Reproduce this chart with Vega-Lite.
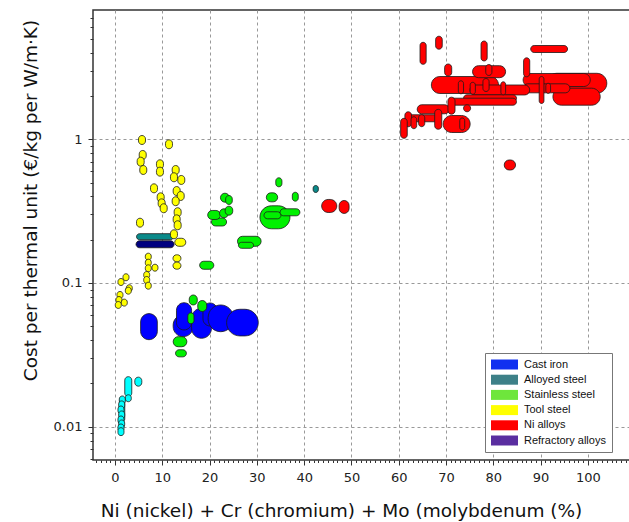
{
  "$schema": "https://vega.github.io/schema/vega-lite/v6.json",
  "width": 537,
  "height": 450,
  "autosize": {"type": "none"},
  "padding": {"left": 93, "top": 10, "right": 0, "bottom": 62},
  "background": "white",
  "config": {
    "view": {"stroke": "#333", "strokeWidth": 1.5},
    "font": "DejaVu Sans",
    "axis": {
      "domain": false,
      "grid": true,
      "gridColor": "#999",
      "gridDash": [3, 3],
      "gridWidth": 1,
      "tickColor": "#333",
      "tickWidth": 1,
      "labelFont": "DejaVu Sans",
      "labelFontSize": 13,
      "labelColor": "#222",
      "labelOverlap": false,
      "labelFlush": false,
      "titleFont": "DejaVu Sans",
      "titleFontSize": 18.5,
      "titleFontWeight": "normal",
      "titleColor": "#111"
    }
  },
  "layer": [
    {
      "data": {
        "values": [
          {"fam": "Tool steel", "x1": 4.97, "x2": 6.45, "y1": 0.92, "y2": 1.063},
          {"fam": "Tool steel", "x1": 10.68, "x2": 12.16, "y1": 0.859, "y2": 0.992},
          {"fam": "Tool steel", "x1": 5.12, "x2": 6.6, "y1": 0.723, "y2": 0.836},
          {"fam": "Tool steel", "x1": 4.69, "x2": 6.17, "y1": 0.65, "y2": 0.751},
          {"fam": "Tool steel", "x1": 5.24, "x2": 6.72, "y1": 0.569, "y2": 0.657},
          {"fam": "Tool steel", "x1": 8.77, "x2": 10.25, "y1": 0.623, "y2": 0.72},
          {"fam": "Tool steel", "x1": 8.77, "x2": 10.25, "y1": 0.554, "y2": 0.64},
          {"fam": "Tool steel", "x1": 12.09, "x2": 13.57, "y1": 0.569, "y2": 0.657},
          {"fam": "Tool steel", "x1": 11.73, "x2": 13.21, "y1": 0.506, "y2": 0.585},
          {"fam": "Tool steel", "x1": 13.28, "x2": 14.76, "y1": 0.485, "y2": 0.56},
          {"fam": "Tool steel", "x1": 7.51, "x2": 8.99, "y1": 0.424, "y2": 0.49},
          {"fam": "Tool steel", "x1": 8.92, "x2": 10.4, "y1": 0.367, "y2": 0.424},
          {"fam": "Tool steel", "x1": 9.13, "x2": 10.61, "y1": 0.334, "y2": 0.385},
          {"fam": "Tool steel", "x1": 9.56, "x2": 11.04, "y1": 0.308, "y2": 0.356},
          {"fam": "Tool steel", "x1": 12.3, "x2": 13.78, "y1": 0.406, "y2": 0.469},
          {"fam": "Tool steel", "x1": 13.15, "x2": 14.63, "y1": 0.375, "y2": 0.433},
          {"fam": "Tool steel", "x1": 12.09, "x2": 13.57, "y1": 0.345, "y2": 0.398},
          {"fam": "Tool steel", "x1": 12.51, "x2": 13.99, "y1": 0.289, "y2": 0.334},
          {"fam": "Tool steel", "x1": 12.3, "x2": 13.78, "y1": 0.258, "y2": 0.298},
          {"fam": "Tool steel", "x1": 12.51, "x2": 13.99, "y1": 0.2345, "y2": 0.271},
          {"fam": "Tool steel", "x1": 4.55, "x2": 6.03, "y1": 0.2445, "y2": 0.2824},
          {"fam": "Alloyed steel", "x1": 4.55, "x2": 12.37, "y1": 0.2, "y2": 0.2203},
          {"fam": "Refractory alloys", "x1": 4.45, "x2": 12.5, "y1": 0.1758, "y2": 0.1966},
          {"fam": "Tool steel", "x1": 11.73, "x2": 13.21, "y1": 0.203, "y2": 0.2345},
          {"fam": "Tool steel", "x1": 12.64, "x2": 14.97, "y1": 0.18, "y2": 0.2047},
          {"fam": "Tool steel", "x1": 12.26, "x2": 13.95, "y1": 0.1404, "y2": 0.157},
          {"fam": "Tool steel", "x1": 12.26, "x2": 13.95, "y1": 0.1247, "y2": 0.1396},
          {"fam": "Tool steel", "x1": 6.41, "x2": 7.67, "y1": 0.1441, "y2": 0.1612},
          {"fam": "Tool steel", "x1": 6.41, "x2": 7.67, "y1": 0.1309, "y2": 0.1464},
          {"fam": "Tool steel", "x1": 6.41, "x2": 7.67, "y1": 0.1197, "y2": 0.1338},
          {"fam": "Tool steel", "x1": 7.82, "x2": 9.09, "y1": 0.1208, "y2": 0.1351},
          {"fam": "Tool steel", "x1": 6.07, "x2": 7.34, "y1": 0.1075, "y2": 0.1202},
          {"fam": "Tool steel", "x1": 6.07, "x2": 7.34, "y1": 0.0992, "y2": 0.111},
          {"fam": "Tool steel", "x1": 6.41, "x2": 7.67, "y1": 0.0905, "y2": 0.1013},
          {"fam": "Tool steel", "x1": 1.69, "x2": 2.96, "y1": 0.1036, "y2": 0.1159},
          {"fam": "Tool steel", "x1": 0.63, "x2": 1.9, "y1": 0.096, "y2": 0.1075},
          {"fam": "Tool steel", "x1": 2.39, "x2": 3.66, "y1": 0.0869, "y2": 0.0972},
          {"fam": "Tool steel", "x1": 2.18, "x2": 3.45, "y1": 0.0836, "y2": 0.0935},
          {"fam": "Tool steel", "x1": 0.42, "x2": 1.69, "y1": 0.078, "y2": 0.0873},
          {"fam": "Tool steel", "x1": 0.21, "x2": 1.48, "y1": 0.072, "y2": 0.0805},
          {"fam": "Tool steel", "x1": 1.33, "x2": 2.6, "y1": 0.069, "y2": 0.0772},
          {"fam": "Tool steel", "x1": 0.06, "x2": 1.33, "y1": 0.0665, "y2": 0.0743},
          {"fam": "Carbon steel", "x1": 2.07, "x2": 3.55, "y1": 0.01618, "y2": 0.02228},
          {"fam": "Carbon steel", "x1": 4.19, "x2": 5.67, "y1": 0.01913, "y2": 0.02211},
          {"fam": "Carbon steel", "x1": 2.18, "x2": 3.45, "y1": 0.01491, "y2": 0.01667},
          {"fam": "Carbon steel", "x1": 1.01, "x2": 2.07, "y1": 0.01087, "y2": 0.01571},
          {"fam": "Carbon steel", "x1": 0.91, "x2": 2.18, "y1": 0.01439, "y2": 0.01635},
          {"fam": "Carbon steel", "x1": 0.78, "x2": 2.05, "y1": 0.01328, "y2": 0.0151},
          {"fam": "Carbon steel", "x1": 0.63, "x2": 1.9, "y1": 0.01226, "y2": 0.01393},
          {"fam": "Carbon steel", "x1": 0.78, "x2": 2.05, "y1": 0.01131, "y2": 0.01286},
          {"fam": "Carbon steel", "x1": 0.63, "x2": 1.9, "y1": 0.01044, "y2": 0.01187},
          {"fam": "Carbon steel", "x1": 0.78, "x2": 2.05, "y1": 0.0098, "y2": 0.01113},
          {"fam": "Carbon steel", "x1": 0.63, "x2": 1.9, "y1": 0.00919, "y2": 0.01044},
          {"fam": "Carbon steel", "x1": 0.63, "x2": 1.9, "y1": 0.00866, "y2": 0.00984},
          {"fam": "Cast iron", "x1": 12.3, "x2": 16.55, "y1": 0.0423, "y2": 0.0599},
          {"fam": "Cast iron", "x1": 13.0, "x2": 16.2, "y1": 0.0471, "y2": 0.0729},
          {"fam": "Cast iron", "x1": 16.2, "x2": 20.4, "y1": 0.0412, "y2": 0.0667},
          {"fam": "Cast iron", "x1": 18.6, "x2": 21.6, "y1": 0.0502, "y2": 0.0726},
          {"fam": "Cast iron", "x1": 19.7, "x2": 25.0, "y1": 0.0458, "y2": 0.0703},
          {"fam": "Cast iron", "x1": 23.6, "x2": 30.3, "y1": 0.0428, "y2": 0.0656},
          {"fam": "Cast iron", "x1": 5.42, "x2": 8.95, "y1": 0.0403, "y2": 0.0612},
          {"fam": "Stainless steel", "x1": 15.4, "x2": 16.7, "y1": 0.052, "y2": 0.062},
          {"fam": "Stainless steel", "x1": 17.5, "x2": 19.4, "y1": 0.0633, "y2": 0.0755},
          {"fam": "Stainless steel", "x1": 15.7, "x2": 17.4, "y1": 0.0703, "y2": 0.0825},
          {"fam": "Stainless steel", "x1": 12.3, "x2": 15.2, "y1": 0.036, "y2": 0.0423},
          {"fam": "Stainless steel", "x1": 12.8, "x2": 15.1, "y1": 0.0306, "y2": 0.0343},
          {"fam": "Stainless steel", "x1": 30.65, "x2": 37.0, "y1": 0.2383, "y2": 0.3445},
          {"fam": "Stainless steel", "x1": 31.5, "x2": 35.1, "y1": 0.2797, "y2": 0.313},
          {"fam": "Stainless steel", "x1": 34.9, "x2": 39.1, "y1": 0.2935, "y2": 0.3283},
          {"fam": "Stainless steel", "x1": 34.0, "x2": 35.3, "y1": 0.467, "y2": 0.5396},
          {"fam": "Stainless steel", "x1": 32.0, "x2": 34.4, "y1": 0.367, "y2": 0.424},
          {"fam": "Stainless steel", "x1": 37.5, "x2": 38.75, "y1": 0.371, "y2": 0.428},
          {"fam": "Stainless steel", "x1": 22.3, "x2": 24.2, "y1": 0.365, "y2": 0.4215},
          {"fam": "Stainless steel", "x1": 23.4, "x2": 24.8, "y1": 0.352, "y2": 0.406},
          {"fam": "Stainless steel", "x1": 20.4, "x2": 23.6, "y1": 0.2492, "y2": 0.2834},
          {"fam": "Stainless steel", "x1": 19.6, "x2": 22.3, "y1": 0.2766, "y2": 0.3196},
          {"fam": "Stainless steel", "x1": 22.1, "x2": 24.0, "y1": 0.2843, "y2": 0.3283},
          {"fam": "Stainless steel", "x1": 23.3, "x2": 24.9, "y1": 0.2964, "y2": 0.3423},
          {"fam": "Stainless steel", "x1": 25.9, "x2": 30.9, "y1": 0.18, "y2": 0.2113},
          {"fam": "Stainless steel", "x1": 26.1, "x2": 29.3, "y1": 0.1743, "y2": 0.1919},
          {"fam": "Stainless steel", "x1": 17.9, "x2": 20.9, "y1": 0.1245, "y2": 0.1416},
          {"fam": "Alloyed steel", "x1": 41.9, "x2": 43.0, "y1": 0.4264, "y2": 0.477},
          {"fam": "Ni alloys", "x1": 43.7, "x2": 46.9, "y1": 0.3095, "y2": 0.3812},
          {"fam": "Ni alloys", "x1": 47.4, "x2": 49.5, "y1": 0.3046, "y2": 0.375},
          {"fam": "Ni alloys", "x1": 82.3, "x2": 84.7, "y1": 0.611, "y2": 0.718},
          {"fam": "Ni alloys", "x1": 66.9, "x2": 81.1, "y1": 2.083, "y2": 2.735},
          {"fam": "Ni alloys", "x1": 91.3, "x2": 104.0, "y1": 2.09, "y2": 2.879},
          {"fam": "Ni alloys", "x1": 86.3, "x2": 100.5, "y1": 2.33, "y2": 2.87},
          {"fam": "Ni alloys", "x1": 92.6, "x2": 102.6, "y1": 1.727, "y2": 2.268},
          {"fam": "Ni alloys", "x1": 86.3, "x2": 96.2, "y1": 2.106, "y2": 2.433},
          {"fam": "Ni alloys", "x1": 75.05, "x2": 87.7, "y1": 2.034, "y2": 2.387},
          {"fam": "Ni alloys", "x1": 73.7, "x2": 84.9, "y1": 1.824, "y2": 2.04},
          {"fam": "Ni alloys", "x1": 70.8, "x2": 84.9, "y1": 1.727, "y2": 1.932},
          {"fam": "Ni alloys", "x1": 75.6, "x2": 82.6, "y1": 2.684, "y2": 3.252},
          {"fam": "Ni alloys", "x1": 63.9, "x2": 70.7, "y1": 1.505, "y2": 1.739},
          {"fam": "Ni alloys", "x1": 62.0, "x2": 68.35, "y1": 1.324, "y2": 1.481},
          {"fam": "Ni alloys", "x1": 69.4, "x2": 75.1, "y1": 1.115, "y2": 1.464},
          {"fam": "Ni alloys", "x1": 64.5, "x2": 65.8, "y1": 3.325, "y2": 4.732},
          {"fam": "Ni alloys", "x1": 67.8, "x2": 69.2, "y1": 4.236, "y2": 5.218},
          {"fam": "Ni alloys", "x1": 77.4, "x2": 78.7, "y1": 3.507, "y2": 4.831},
          {"fam": "Ni alloys", "x1": 87.9, "x2": 95.7, "y1": 4.018, "y2": 4.495},
          {"fam": "Ni alloys", "x1": 69.7, "x2": 71.2, "y1": 2.757, "y2": 3.342},
          {"fam": "Ni alloys", "x1": 86.4, "x2": 87.7, "y1": 2.722, "y2": 3.69},
          {"fam": "Ni alloys", "x1": 78.4, "x2": 79.7, "y1": 2.78, "y2": 3.315},
          {"fam": "Ni alloys", "x1": 72.6, "x2": 73.7, "y1": 2.073, "y2": 2.554},
          {"fam": "Ni alloys", "x1": 75.1, "x2": 76.2, "y1": 2.057, "y2": 2.493},
          {"fam": "Ni alloys", "x1": 77.8, "x2": 79.1, "y1": 2.151, "y2": 2.649},
          {"fam": "Ni alloys", "x1": 81.6, "x2": 82.6, "y1": 2.04, "y2": 2.513},
          {"fam": "Ni alloys", "x1": 89.7, "x2": 90.7, "y1": 1.775, "y2": 2.735},
          {"fam": "Ni alloys", "x1": 91.1, "x2": 92.1, "y1": 2.09, "y2": 2.453},
          {"fam": "Ni alloys", "x1": 70.4, "x2": 71.9, "y1": 1.495, "y2": 1.963},
          {"fam": "Ni alloys", "x1": 73.7, "x2": 75.2, "y1": 1.554, "y2": 1.739},
          {"fam": "Ni alloys", "x1": 61.3, "x2": 62.7, "y1": 1.222, "y2": 1.554},
          {"fam": "Ni alloys", "x1": 60.4, "x2": 61.8, "y1": 1.016, "y2": 1.4},
          {"fam": "Ni alloys", "x1": 62.6, "x2": 63.8, "y1": 1.185, "y2": 1.436},
          {"fam": "Ni alloys", "x1": 64.2, "x2": 65.5, "y1": 1.224, "y2": 1.483},
          {"fam": "Ni alloys", "x1": 67.6, "x2": 69.1, "y1": 1.174, "y2": 1.617},
          {"fam": "Ni alloys", "x1": 72.9, "x2": 73.95, "y1": 1.161, "y2": 1.407}
        ]
      },
      "mark": {"type": "rect", "cornerRadius": 500, "stroke": "#1a1a1a", "strokeWidth": 0.8},
      "encoding": {
        "x": {
          "field": "x1",
          "type": "quantitative",
          "scale": {"domain": [-4.65, 108.9], "nice": false, "zero": false},
          "axis": {
            "title": "Ni (nickel) + Cr (chromium) + Mo (molybdenum (%)",
            "values": [-4,-3,-2,-1,0,1,2,3,4,5,6,7,8,9,10,11,12,13,14,15,16,17,18,19,20,21,22,23,24,25,26,27,28,29,30,31,32,33,34,35,36,37,38,39,40,41,42,43,44,45,46,47,48,49,50,51,52,53,54,55,56,57,58,59,60,61,62,63,64,65,66,67,68,69,70,71,72,73,74,75,76,77,78,79,80,81,82,83,84,85,86,87,88,89,90,91,92,93,94,95,96,97,98,99,100,101,102,103,104,105,106,107,108],
            "gridOpacity": {"condition": {"test": "datum.value % 10 == 0 && datum.value >= 0 && datum.value <= 100", "value": 1}, "value": 0},
            "tickSize": {"condition": {"test": "datum.value % 10 == 0", "value": 5}, "value": 2.5},
            "labelExpr": "datum.value % 10 == 0 && datum.value >= 0 && datum.value <= 100 ? datum.label : ''",
            "labelPadding": 6,
            "titleX": 248,
            "titleY": 56,
            "titleAlign": "center",
            "titleBaseline": "alphabetic"
          }
        },
        "x2": {"field": "x2"},
        "y": {
          "field": "y1",
          "type": "quantitative",
          "scale": {"type": "log", "domain": [0.00586, 7.94], "nice": false},
          "axis": {
            "title": "Cost per thermal unit (€/kg per W/m·K)",
            "values": [0.006,0.007,0.008,0.009,0.01,0.02,0.03,0.04,0.05,0.06,0.07,0.08,0.09,0.1,0.2,0.3,0.4,0.5,0.6,0.7,0.8,0.9,1,2,3,4,5,6,7],
            "gridOpacity": {"condition": {"test": "datum.value == 1 || datum.value == 0.1 || datum.value == 0.01", "value": 1}, "value": 0},
            "tickSize": {"condition": {"test": "datum.value == 1 || datum.value == 0.1 || datum.value == 0.01", "value": 5}, "value": 3},
            "labelExpr": "datum.value == 1 ? '1' : datum.value == 0.1 ? '0.1' : datum.value == 0.01 ? '0.01' : ''",
            "labelPadding": 6,
            "titleX": -57,
            "titleY": 190,
            "titleAlign": "center",
            "titleBaseline": "alphabetic",
            "titleAngle": 270
          }
        },
        "y2": {"field": "y2"},
        "fill": {
          "field": "fam",
          "type": "nominal",
          "scale": {
            "domain": ["Cast iron", "Alloyed steel", "Carbon steel", "Stainless steel", "Tool steel", "Ni alloys", "Refractory alloys"],
            "range": ["#0000ff", "#0a8a8a", "#00ffff", "#00f000", "#ffff00", "#ff0000", "#000080"]
          },
          "legend": null
        }
      }
    },
    {
      "data": {
        "values": [
          {"cat": "Cast iron"},
          {"cat": "Alloyed steel"},
          {"cat": "Stainless steel"},
          {"cat": "Tool steel"},
          {"cat": "Ni alloys"},
          {"cat": "Refractory alloys"}
        ]
      },
      "mark": {"type": "point", "filled": true, "opacity": 0},
      "encoding": {
        "color": {
          "field": "cat",
          "type": "nominal",
          "scale": {
            "domain": ["Cast iron", "Alloyed steel", "Stainless steel", "Tool steel", "Ni alloys", "Refractory alloys"],
            "range": ["#1030f0", "#3d8088", "#6ee63c", "#ffff00", "#ff0000", "#5a2ea0"]
          },
          "legend": {
            "orient": "none",
            "legendX": 392,
            "legendY": 343,
            "title": null,
            "fillColor": "white",
            "strokeColor": "#777",
            "padding": 6,
            "symbolType": "M-2.7,-1H2.7V1H-2.7Z",
            "symbolSize": 100,
            "symbolOpacity": 1,
            "symbolStrokeWidth": 0,
            "symbolOffset": 8,
            "labelOffset": 14,
            "labelFont": "Liberation Sans",
            "labelFontSize": 11,
            "labelColor": "#111",
            "rowPadding": 3.2
          }
        }
      }
    }
  ]
}
